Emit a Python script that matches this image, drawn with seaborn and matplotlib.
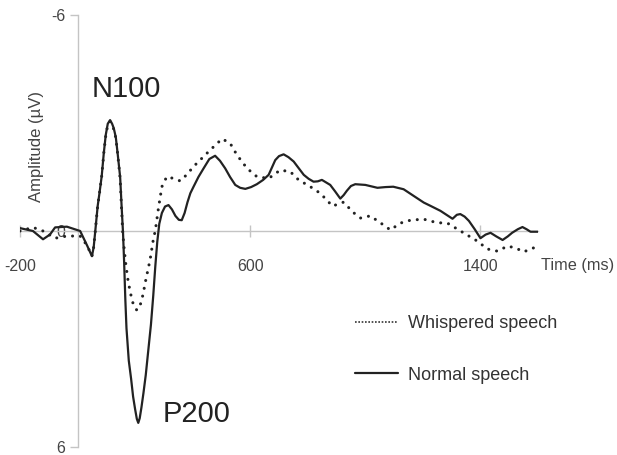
import pandas as pd
import numpy as np
import matplotlib
matplotlib.use("Agg")
import matplotlib.pyplot as plt
import seaborn as sns
from matplotlib.lines import Line2D

### data (time in ms, amplitude in microvolts, negative is drawn up)
time_normal = [-200, -155, -120, -96, -78, -37, 9, 33, 50, 56,
               61, 70, 77, 84, 91, 98, 105, 113, 120, 126,
               133, 140, 148, 153, 158, 162, 166, 170, 178, 186,
               193, 200, 206, 211, 216, 222, 229, 237, 246, 255,
               263, 270, 277, 284, 293, 304, 316, 328, 340, 352,
               362, 372, 382, 392, 403, 420, 438, 458, 478, 495,
               513, 530, 548, 565, 583, 603, 623, 645, 664, 687,
               700, 716, 733, 751, 768, 786, 803, 820, 835, 849,
               878, 895, 913, 925, 936, 950, 965, 1000, 1042, 1070,
               1097, 1133, 1167, 1203, 1226, 1261, 1303, 1318, 1330, 1345,
               1360, 1380, 1400, 1418, 1435, 1455, 1477, 1495, 1510, 1530,
               1546, 1560, 1574, 1600]
amp_normal = [-0.08, 0.0, 0.23, 0.1, -0.1, -0.12, 0.0, 0.4, 0.7, 0.45,
              0.05, -0.7, -1.1, -1.53, -2.15, -2.67, -2.98, -3.08, -2.98, -2.85,
              -2.6, -2.1, -1.5, -0.7, 0.05, 0.9, 1.9, 2.7, 3.6, 4.1,
              4.6, 4.95, 5.22, 5.33, 5.2, 4.9, 4.5, 4.0, 3.3, 2.6,
              1.8, 1.0, 0.3, -0.2, -0.5, -0.68, -0.72, -0.6, -0.42, -0.31,
              -0.3, -0.5, -0.8, -1.05, -1.23, -1.5, -1.74, -2.0, -2.09, -1.95,
              -1.74, -1.5, -1.28, -1.2, -1.17, -1.22, -1.3, -1.42, -1.56, -1.97,
              -2.08, -2.13, -2.05, -1.93, -1.75, -1.56, -1.45, -1.37, -1.38, -1.42,
              -1.28, -1.1, -0.9, -1.0, -1.12, -1.25, -1.3, -1.28, -1.2, -1.22,
              -1.23, -1.16, -0.98, -0.79, -0.7, -0.56, -0.34, -0.45, -0.47, -0.4,
              -0.28, -0.05, 0.2, 0.1, 0.05, 0.15, 0.25, 0.15, 0.05, -0.05,
              -0.11, -0.05, 0.02, 0.02]

time_whisper = [-200, -155, -120, -78, -37, 9, 33, 50, 56, 61,
                70, 77, 84, 91, 98, 105, 113, 120, 126, 133,
                140, 148, 153, 157, 162, 168, 175, 183, 194, 206,
                218, 228, 235, 244, 252, 258, 264, 270, 281, 293,
                310, 333, 357, 380, 403, 432, 461, 502, 530, 554,
                589, 623, 664, 704, 739, 768, 809, 843, 872, 885,
                924, 959, 983, 1017, 1052, 1087, 1122, 1157, 1202, 1249,
                1285, 1341, 1389, 1424, 1459, 1494, 1522, 1550, 1600]
amp_whisper = [0.0, -0.1, 0.0, 0.2, 0.14, 0.14, 0.4, 0.7, 0.45, 0.05,
               -0.7, -1.1, -1.53, -2.15, -2.65, -2.95, -3.04, -2.95, -2.82, -2.58,
               -2.1, -1.45, -0.6, 0.05, 0.5, 0.95, 1.35, 1.7, 2.05, 2.2,
               2.05, 1.75, 1.44, 1.1, 0.8, 0.5, 0.2, 0.0, -0.63, -1.23,
               -1.51, -1.46, -1.39, -1.57, -1.79, -2.02, -2.25, -2.56, -2.44, -2.11,
               -1.74, -1.51, -1.46, -1.69, -1.65, -1.42, -1.23, -1.05, -0.81, -0.69,
               -0.8, -0.51, -0.36, -0.42, -0.23, -0.03, -0.22, -0.3, -0.33, -0.23,
               -0.22, 0.05, 0.28, 0.5, 0.56, 0.42, 0.47, 0.58, 0.42]

x_ticks = [-200, 600, 1400]
y_ticks = [-6, 0, 6]
labels = ["Whispered speech", "Normal speech"]

df_normal = pd.DataFrame({"time": time_normal, "amp": amp_normal})
df_whisper = pd.DataFrame({"time": time_whisper, "amp": amp_whisper})

sns.set_style("white")
plt.rcParams["font.family"] = ["Liberation Sans", "DejaVu Sans"]
plt.rcParams["axes.unicode_minus"] = False

fig = plt.figure(figsize=(6.17, 4.55), dpi=100)
ax = fig.add_axes([20 / 617, 1 - 447 / 455, 518 / 617, 432 / 455])

sns.lineplot(data=df_whisper, x="time", y="amp", ax=ax, color="#222222", lw=2.2,
             linestyle=(0, (0.01, 2.6)), dash_capstyle="round", sort=False, zorder=3)
sns.lineplot(data=df_normal, x="time", y="amp", ax=ax, color="#222222", lw=1.6,
             solid_joinstyle="round", sort=False, zorder=3)

ax.set_xlim(-200, 1600)
ax.set_ylim(6, -6)

### spines through zero
for s in ["top", "right"]:
    ax.spines[s].set_visible(False)
ax.spines["left"].set_position(("data", 0))
ax.spines["bottom"].set_position(("data", 0))
for s in ["left", "bottom"]:
    ax.spines[s].set_color("#c4c4c4")
    ax.spines[s].set_linewidth(1.0)
    ax.spines[s].set_zorder(1)

ax.set_xticks(x_ticks)
ax.set_yticks(y_ticks)
ax.tick_params(axis="x", direction="inout", length=8, width=1, color="#c4c4c4", pad=16,
               labelsize=11.5, labelcolor="#444444", bottom=True)
ax.tick_params(axis="y", direction="out", length=6, width=1, color="#c4c4c4", pad=3,
               labelsize=11.5, labelcolor="#444444", left=True)
ax.set_xlabel("")
ax.set_ylabel("")

ax.text(50, -3.72, "N100", fontsize=21, color="#222222", ha="left", va="baseline")
ax.text(294, 5.3, "P200", fontsize=21, color="#222222", ha="left", va="baseline")
ax.text(1610, 1.08, "Time (ms)", fontsize=11.7, color="#444444", ha="left", va="baseline", clip_on=False)
fig.text(37 / 617, 1 - 147 / 455, "Amplitude (\u00b5V)", rotation=90, fontsize=12, color="#444444",
         ha="center", va="center")

handles = [Line2D([], [], color="#333333", lw=1.2, linestyle=(0, (1, 1))),
           Line2D([], [], color="#222222", lw=1.6)]
fig.legend(handles, labels, loc="center left", bbox_to_anchor=(355 / 617, 1 - 349.5 / 455), frameon=False,
           fontsize=13, handlelength=2.38, handletextpad=0.55, labelspacing=1.9, borderpad=0, borderaxespad=0,
           labelcolor="#333333")

plt.savefig("out.png", dpi=100)
plt.close()
